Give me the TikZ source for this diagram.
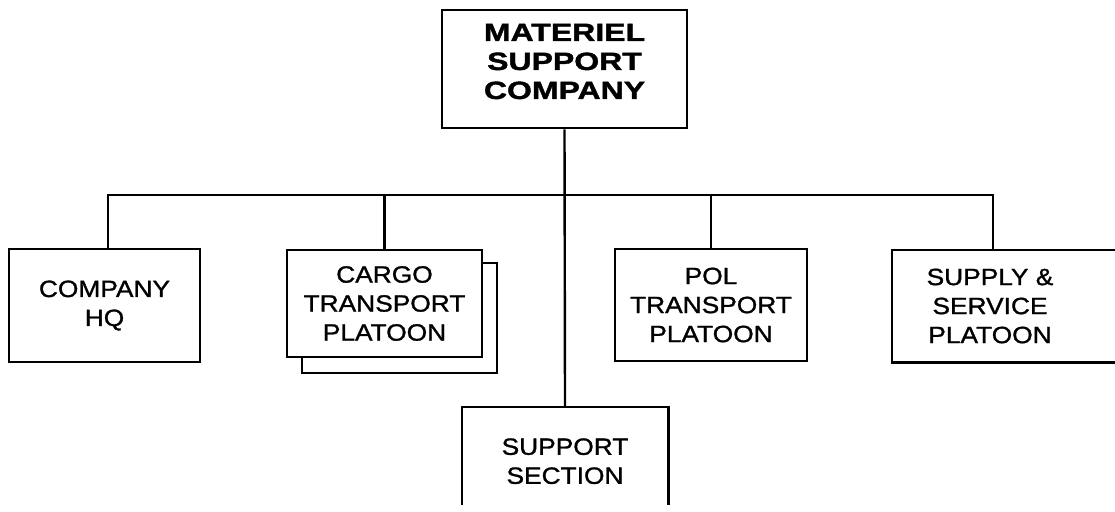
\documentclass[tikz,border=0pt]{standalone}
\usepackage{fontspec}
\setmainfont{Liberation Sans}[FakeStretch=1.12,FakeBold=1.2]
\newfontfamily\titlefont{Liberation Sans Bold}[FakeStretch=1.28,FakeBold=1.5]
\begin{document}
\begin{tikzpicture}[x=1pt,y=-1pt,
  boxline/.style={line width=2.6pt},
  box/.style={draw, boxline, fill=white, inner sep=0pt, align=center,
    font=\fontsize{23.5}{29}\selectfont},
  textbox/.style={inner sep=0pt, align=center, font=\fontsize{23.5}{29}\selectfont},
  titletext/.style={inner sep=0pt, align=center, font=\titlefont\fontsize{25}{29}\selectfont},
  conn/.style={line width=2.4pt}]
\useasboundingbox (0,0) rectangle (1115,511);
\fill[white] (0,0) rectangle (1115,511);
\clip (0,0) rectangle (1115,511);

% top box
\node[box, minimum width=245pt, minimum height=118pt] (msc) at (564.5,69) {};
\node[titletext] (msct) at (564.5,61.5) {MATERIEL\\SUPPORT\\COMPANY};

% second row
\node[box, minimum width=191pt, minimum height=113pt] (hq) at (104.5,305.5) {COMPANY\\HQ};
\node[draw, boxline, fill=white, minimum width=195pt, minimum height=110pt] (cargosh) at (399.5,318) {};
\node[box, minimum width=195pt, minimum height=107pt] (cargo) at (384.5,303.5) {CARGO\\TRANSPORT\\PLATOON};
\node[box, minimum width=192pt, minimum height=112pt] (pol) at (711,305) {POL\\TRANSPORT\\PLATOON};
\node[textbox, minimum width=196pt, minimum height=112pt] (sas) at (990,306) {SUPPLY \&\\SERVICE\\PLATOON};
\draw[boxline] ([xshift=240pt]sas.north west) -- (sas.north west) -- (sas.south west) -- ([xshift=240pt]sas.south west);

% support section (open at the bottom edge)
\node[textbox, minimum width=206pt, minimum height=108pt, anchor=north] (ss) at (565,407) {SUPPORT\\SECTION};
\draw[boxline] ([yshift=10pt]ss.south west) -- (ss.north west) -- (ss.north east) -- ([yshift=10pt]ss.south east);

% connectors
\coordinate (busL) at (108,195);
\coordinate (busR) at (993,195);
\draw[conn] (busL |- hq.north) -- (busL) -- (busR) -- (busR |- sas.north);
\draw[conn] (msc.south) -- (ss.north);
\draw[conn] (cargo.north |- busL) -- (cargo.north);
\draw[conn] (pol.north |- busL) -- (pol.north);
\end{tikzpicture}
\end{document}
